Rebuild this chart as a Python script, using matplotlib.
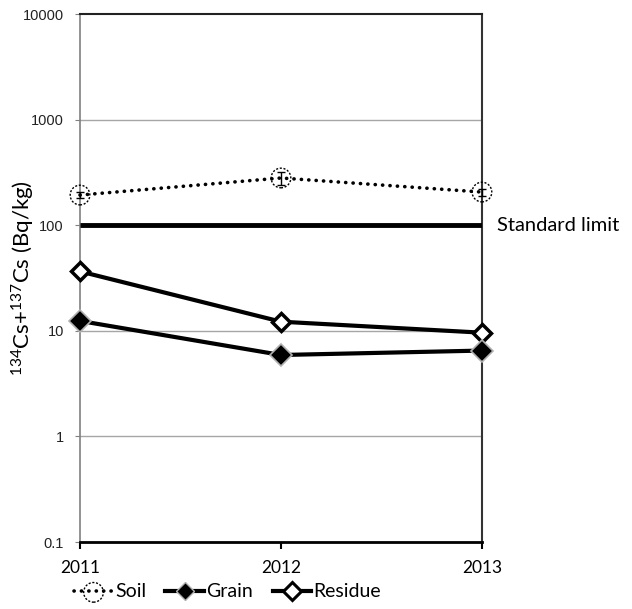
import matplotlib.pyplot as plt
from matplotlib.lines import Line2D
from matplotlib.legend_handler import HandlerTuple
from matplotlib.ticker import FixedLocator, NullLocator

years = ["2011", "2012", "2013"]
soil = [193, 280, 206]
soil_err = [12, 40, 15]
grain = [12.4, 5.9, 6.5]
residue = [36.5, 12.2, 9.6]
standard_limit = 100

label_font = ["Lato", "DejaVu Sans"]

fig = plt.figure(figsize=(6.32, 6.09), dpi=100)
ax = fig.add_axes([0.1266, 0.110, 0.636, 0.867])

x = list(range(len(years)))

ax.set_yscale("log")
ax.set_ylim(0.1, 10000)
ax.set_xlim(0, len(years) - 1)

# gridlines at every decade
for v in [0.1, 1, 10, 100, 1000]:
    ax.axhline(v, color="#a6a6a6", lw=1, zorder=1)

ax.axhline(standard_limit, color="black", lw=3.5, zorder=3, solid_capstyle="butt")

# soil: dotted line, dotted-edge circles, small error bars
soil_line, = ax.plot(x, soil, color="black", lw=2.6, linestyle=(0, (0.05, 2.0)),
                     dash_capstyle="round", zorder=4, clip_on=False)
ax.errorbar(x, soil, yerr=soil_err, fmt="none", ecolor="black", elinewidth=1,
            capsize=3, zorder=5, clip_on=False)
soil_pts = ax.scatter(x, soil, s=200, facecolors="none", edgecolors="black",
                      linewidths=1.0, linestyles=(0, (1.5, 1.2)), zorder=6,
                      clip_on=False)

res_line, = ax.plot(x, residue, color="black", lw=3, marker="D", markersize=9.5,
                    markerfacecolor="white", markeredgecolor="black",
                    markeredgewidth=2.5, zorder=5, clip_on=False)
grain_line, = ax.plot(x, grain, color="black", lw=3, marker="D", markersize=11,
                      markerfacecolor="black", markeredgecolor="#b0b0b0",
                      markeredgewidth=1.2, zorder=5, clip_on=False)

ax.text(1.037, standard_limit, "Standard limit", transform=ax.get_yaxis_transform(),
        va="center", ha="left", fontsize=14.5, family=label_font)

# axes frame like the original
ax.spines["left"].set_color("#808080")
ax.spines["left"].set_linewidth(1.2)
ax.spines["right"].set_color("#333333")
ax.spines["right"].set_linewidth(1.5)
ax.spines["top"].set_color("#222222")
ax.spines["top"].set_linewidth(1.5)
ax.spines["bottom"].set_color("black")
ax.spines["bottom"].set_linewidth(2)

ax.yaxis.set_major_locator(FixedLocator([0.1, 1, 10, 100, 1000, 10000]))
ax.yaxis.set_minor_locator(NullLocator())
ax.set_yticklabels(["0.1", "1", "10", "100", "1000", "10000"],
                   fontsize=10.5, family=["Liberation Sans", "DejaVu Sans"], color="#222222")
ax.tick_params(axis="y", direction="out", length=3.6, color="#808080", pad=8)

ax.set_xticks(x)
ax.set_xticklabels(years, fontsize=12.5, family=label_font)
ax.tick_params(axis="x", direction="out", length=5, width=1.5, color="black", pad=8)

ax.set_ylabel("$\\mathregular{^{134}}$Cs+$\\mathregular{^{137}}$Cs (Bq/kg)",
              fontsize=16, family=label_font)
ax.yaxis.set_label_coords(-0.107, 0.5)

grain_proxy = Line2D([0], [0], color="black", lw=3, marker="D", markersize=9,
                     markerfacecolor="black", markeredgecolor="#b0b0b0",
                     markeredgewidth=1.0)
res_proxy = Line2D([0], [0], color="black", lw=3, marker="D", markersize=9,
                   markerfacecolor="white", markeredgecolor="black",
                   markeredgewidth=2.2)
soil_proxy = Line2D([0], [0], color="black", lw=2.6, linestyle=(0, (0.05, 2.0)),
                    dash_capstyle="round")
fig.legend([(soil_proxy, soil_pts), grain_proxy, res_proxy],
           ["Soil", "Grain", "Residue"], loc="center",
           bbox_to_anchor=(0.36, 0.028), ncol=3, frameon=False,
           prop={"family": label_font, "size": 14}, handlelength=2.0,
           handletextpad=0.1, columnspacing=1.0, scatterpoints=1,
           handler_map={tuple: HandlerTuple(ndivide=1)})

fig.savefig("out.png", dpi=100)
